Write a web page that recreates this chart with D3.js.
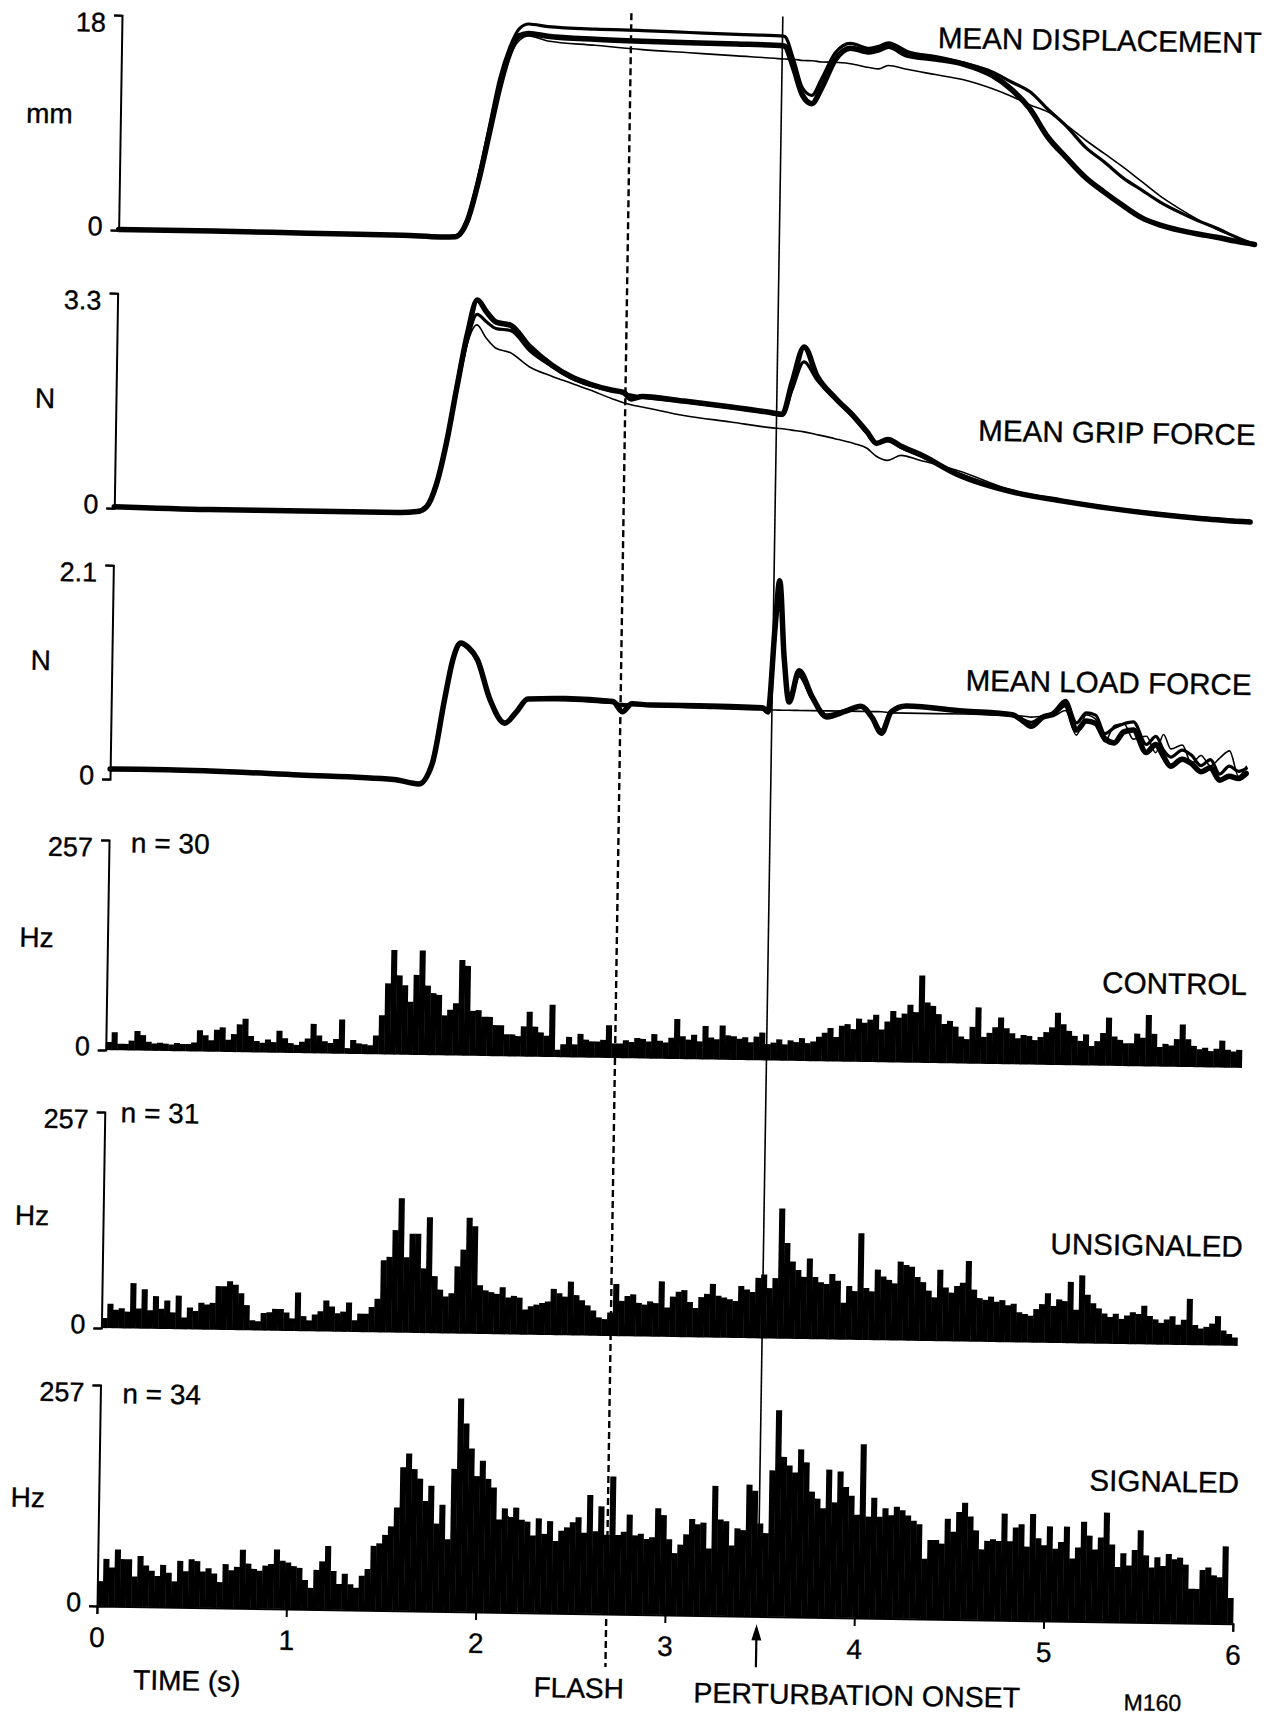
<!DOCTYPE html>
<html><head><meta charset="utf-8">
<script src="https://cdn.jsdelivr.net/npm/d3@7"></script>
<style>
body{margin:0;background:#fff}
text{font-family:"Liberation Sans",Arial,Helvetica,sans-serif;fill:#000;stroke:#000;stroke-width:0.35px}
</style></head>
<body><svg id="c" width="1274" height="1716"></svg>
<script>
// ---------- DATA ----------
const panelTitles = ["MEAN DISPLACEMENT","MEAN GRIP FORCE","MEAN LOAD FORCE","CONTROL","UNSIGNALED","SIGNALED"];
const panelUnits  = ["mm","N","N","Hz","Hz","Hz"];
const panelMax    = [18, 3.3, 2.1, 257, 257, 257];
const maxLabels   = ["18","3.3","2.1","257","257","257"];
const trialCounts = ["n = 30","n = 31","n = 34"];
const timeTicks   = [0,1,2,3,4,5,6];
const flashTime = 2.69, perturbTime = 3.49;
const binWidth = 0.03;

// displacement (mm)
const dispTime = [0,0.5,1.0,1.5,1.7,1.78,1.84,1.9,1.95,2.0,2.05,2.1,2.15,2.25,2.5,2.75,3.0,3.25,3.45,3.5,3.55,3.6,3.65,3.7,3.77,3.85,3.95,4.0,4.05,4.15,4.3,4.45,4.6,4.7,4.8,4.9,5.0,5.1,5.2,5.3,5.4,5.5,5.6,5.7,5.8,5.9,6.0];
const dispSignaled   = [0.05,0.05,0.0,-0.05,-0.15,-0.1,1.2,4.8,8.6,12.4,15.3,16.8,17.0,16.8,16.6,16.5,16.45,16.4,16.35,16.3,14.5,12.2,11.5,12.8,15.2,16.2,15.9,16.1,16.4,15.7,15.4,15.0,14.1,13.0,11.4,9.0,7.3,5.7,4.5,3.4,2.4,1.8,1.4,1.1,0.85,0.55,0.3];
const dispUnsignaled = [0.05,0.05,0.0,-0.05,-0.15,-0.05,1.4,5.2,9.2,13.2,15.8,17.4,17.8,17.6,17.45,17.4,17.3,17.2,17.15,17.1,15.2,12.8,12.2,13.6,15.8,16.6,16.2,16.4,16.7,16.0,15.6,15.1,14.4,13.6,12.8,11.3,9.9,8.2,7.0,5.7,4.7,3.7,2.9,2.2,1.6,0.9,0.3];
const dispControl    = [0.05,0.05,0.0,-0.05,-0.15,-0.1,1.2,4.8,8.6,12.3,15.0,16.4,16.8,16.4,16.1,15.8,15.6,15.4,15.25,15.2,15.2,15.1,15.1,15.0,15.0,14.9,14.6,14.5,14.8,14.5,14.1,13.7,13.0,12.4,11.7,11.1,10.0,8.8,7.7,6.6,5.4,4.2,3.2,2.3,1.5,0.9,0.3];

// grip force (N)
const gripTime = [0,0.5,1.0,1.5,1.6,1.65,1.7,1.75,1.8,1.85,1.9,1.95,2.0,2.08,2.18,2.3,2.4,2.5,2.62,2.68,2.72,2.78,3.0,3.25,3.47,3.52,3.57,3.63,3.7,3.8,3.9,3.97,4.02,4.08,4.15,4.25,4.45,4.75,5.0,5.25,5.5,5.75,6.0];
const gripSignaled   = [0.02,0.0,0.0,0.0,0.02,0.1,0.45,1.1,1.95,2.75,3.28,3.1,2.95,2.9,2.58,2.3,2.13,2.02,1.93,1.9,1.8,1.84,1.78,1.7,1.62,1.6,2.1,2.64,2.2,1.86,1.58,1.35,1.18,1.24,1.14,1.02,0.72,0.46,0.34,0.24,0.16,0.1,0.06];
const gripUnsignaled = [0.02,0.0,0.0,0.0,0.02,0.1,0.45,1.1,1.9,2.65,3.06,2.95,2.85,2.82,2.52,2.28,2.11,2.0,1.92,1.88,1.86,1.83,1.77,1.69,1.61,1.59,1.98,2.41,2.14,1.84,1.56,1.33,1.17,1.22,1.12,1.0,0.74,0.47,0.35,0.25,0.17,0.11,0.07];
const gripControl    = [0.02,0.0,0.0,0.0,0.02,0.1,0.45,1.1,1.85,2.6,2.9,2.7,2.55,2.48,2.27,2.13,2.03,1.93,1.8,1.74,1.71,1.68,1.56,1.47,1.39,1.38,1.36,1.34,1.3,1.24,1.17,1.1,0.98,0.92,1.0,0.93,0.78,0.48,0.35,0.25,0.17,0.11,0.07];

// load force (N)
const loadTime = [0,0.3,1.0,1.5,1.63,1.7,1.76,1.8,1.84,1.88,1.93,2.0,2.08,2.14,2.2,2.4,2.65,2.7,2.75,2.85,3.1,3.44,3.47,3.5,3.52,3.55,3.58,3.63,3.7,3.78,3.88,3.96,4.02,4.07,4.12,4.2,4.5,4.76,4.81,4.86,4.92,4.97,5.04,5.1,5.15,5.2,5.25,5.3,5.35,5.4,5.47,5.52,5.56,5.6,5.66,5.71,5.76,5.81,5.86,5.91,5.96,6.0];
const loadSignaled   = [0.1,0.1,0.07,0.04,0.0,0.2,0.83,1.22,1.39,1.35,1.23,0.84,0.61,0.72,0.85,0.86,0.84,0.74,0.82,0.81,0.81,0.8,0.76,1.6,2.05,1.3,0.86,1.17,0.92,0.72,0.78,0.83,0.72,0.57,0.78,0.84,0.8,0.77,0.72,0.66,0.75,0.78,0.88,0.63,0.72,0.7,0.55,0.51,0.62,0.64,0.42,0.5,0.39,0.29,0.36,0.32,0.24,0.28,0.16,0.2,0.18,0.23];
const loadUnsignaled = [0.1,0.1,0.07,0.04,0.0,0.2,0.83,1.22,1.38,1.34,1.22,0.84,0.62,0.73,0.85,0.86,0.84,0.8,0.82,0.81,0.81,0.8,0.77,1.5,1.98,1.25,0.88,1.12,0.9,0.74,0.79,0.83,0.73,0.6,0.79,0.84,0.8,0.77,0.73,0.7,0.76,0.79,0.92,0.7,0.8,0.78,0.6,0.66,0.7,0.72,0.5,0.58,0.45,0.38,0.45,0.4,0.3,0.36,0.22,0.3,0.25,0.28];
const loadControl    = [0.1,0.1,0.07,0.04,0.0,0.2,0.83,1.22,1.38,1.34,1.22,0.84,0.62,0.73,0.84,0.84,0.82,0.82,0.81,0.8,0.79,0.78,0.78,0.78,0.78,0.78,0.78,0.78,0.78,0.78,0.78,0.78,0.78,0.78,0.77,0.77,0.77,0.76,0.76,0.75,0.76,0.76,0.82,0.58,0.78,0.74,0.52,0.68,0.7,0.55,0.58,0.42,0.6,0.46,0.5,0.32,0.4,0.3,0.38,0.45,0.2,0.3];

// peri-stimulus histograms (Hz), 30 ms bins from 0 s
const histControl = [
10,22,8,8,12,24,19,11,9,10, 9,8,10,9,9,11,26,20,14,27,
30,15,22,34,41,20,14,12,16,13, 27,18,12,10,14,18,36,22,15,13,
18,42,7,17,13,12,11,23,48,87, 128,97,85,65,98,128,85,76,74,49,
56,64,117,110,55,56,48,48,38,38, 27,27,25,37,55,37,30,26,64,9,
16,25,16,29,22,20,20,22,40,18, 18,22,20,25,24,21,30,22,20,26,
49,28,24,30,22,41,27,25,42,30, 29,26,28,22,29,34,20,22,26,20,
25,23,28,22,24,30,35,41,30,44, 46,40,53,48,52,58,40,50,63,55,
60,71,62,107,74,70,60,48,52,45, 33,30,45,69,33,38,45,57,44,38,
32,36,35,30,34,40,46,64,50,42, 36,30,38,24,30,40,59,36,32,28,
28,40,35,63,40,24,28,26,34,52, 34,26,22,24,20,23,33,22,20,22];
const histUnsignaled = [
12,29,22,24,20,54,24,47,22,39, 24,34,20,40,14,26,22,32,30,32,
52,52,58,54,44,30,12,11,21,22, 26,26,22,15,46,18,13,20,24,37,
30,22,24,35,14,22,22,30,40,86, 90,122,160,90,118,118,77,138,68,52,
44,48,80,100,138,128,58,52,50,48, 56,44,46,44,30,34,36,38,40,55,
50,46,64,48,42,36,30,22,20,28, 62,42,48,50,40,38,42,40,66,35,
48,54,56,42,35,48,52,64,50,48, 46,44,62,58,55,72,76,60,72,155,
114,92,82,74,96,74,68,66,78,70, 44,64,58,127,62,58,84,76,72,68,
94,90,88,76,70,60,52,85,64,58, 66,70,96,62,52,50,54,48,50,44,
46,36,34,32,40,46,59,44,52,50, 73,40,81,58,48,42,36,32,36,30,
34,38,36,46,34,30,26,30,34,24, 30,55,24,20,22,26,35,18,14,10];
const histSignaled = [
29,55,45,66,55,55,35,59,48,42, 36,49,40,30,54,42,56,54,42,46,
40,30,51,44,48,68,52,46,44,50, 52,69,56,54,50,48,34,25,46,56,
74,45,30,42,30,26,40,48,75,78, 88,98,120,167,183,165,154,128,146,102,
124,84,166,248,219,190,158,176,155,145, 108,121,112,122,108,106,90,110,92,107,
84,96,100,106,112,94,138,96,125,92, 160,92,96,116,92,94,88,90,124,116,
88,72,82,94,112,106,108,78,151,112, 110,82,102,100,153,146,108,97,170,240,
186,176,168,195,180,146,138,127,172,134, 170,152,142,120,202,118,140,118,128,120,
130,126,120,114,110,70,92,92,88,117, 102,125,136,120,104,82,92,94,92,124,
92,108,112,86,124,96,88,110,84,92, 110,73,86,116,100,84,98,127,90,64,
80,66,84,107,78,64,76,66,80,74, 76,68,40,40,62,65,56,54,90,30];

// ---------- LAYOUT ----------
const layout = [
 {top:15,  zero:230,  titleY:35,   unitY:124},
 {top:293, zero:508,  titleY:427,  unitY:409},
 {top:565, zero:779,  titleY:677,  unitY:671},
 {top:840, zero:1050, titleY:977,  unitY:948,  nX:119, nY:852},
 {top:1112,zero:1328, titleY:1239, unitY:1226, nX:113, nY:1122},
 {top:1385,zero:1606, titleY:1475, unitY:1508, nX:119, nY:1403}
];
const traceSets = [
 {t:dispTime, s:[dispControl, dispUnsignaled, dispSignaled]},
 {t:gripTime, s:[gripControl, gripUnsignaled, gripSignaled]},
 {t:loadTime, s:[loadControl, loadUnsignaled, loadSignaled]}
];
const lineWidths = [1.6, 3.2, 5.5];
const hists = [histControl, histUnsignaled, histSignaled];

const svg = d3.select("#c");
const g = svg.append("g").attr("transform","rotate(0.9,97,1607)");
const x = d3.scaleLinear().domain([0,6]).range([97,1233]);
const AX = 97;

layout.forEach((L,p)=>{
  const y = d3.scaleLinear().domain([0,panelMax[p]]).range([L.zero, L.top]);
  const pg = g.append("g");
  if (p < 3) {
    const set = traceSets[p];
    set.s.forEach((vals,k)=>{
      const pts = set.t.map((t,i)=>[t, vals[i]]);
      const line = d3.line().x(d=>x(d[0])).y(d=>y(d[1])).curve(d3.curveMonotoneX);
      pg.append("path").attr("d", line(pts)).attr("fill","none")
        .attr("stroke","#000").attr("stroke-width", lineWidths[k])
        .attr("stroke-linejoin","round").attr("stroke-linecap","round");
    });
  } else {
    const h = hists[p-3];
    pg.selectAll("rect").data(h).join("rect")
      .attr("x",(d,i)=>x(i*binWidth))
      .attr("width",(d,i)=>x((i+1)*binWidth)-x(i*binWidth)+0.4)
      .attr("y",d=>y(d)).attr("height",d=>L.zero-y(d)).attr("fill","#000");
    pg.append("text").attr("x",L.nX).attr("y",L.nY).attr("font-size",28).text(trialCounts[p-3]);
  }
  // y axis bracket
  const ax = d3.axisLeft(y).tickValues([0,panelMax[p]]).tickSize(8).tickPadding(8)
      .tickFormat((d,i)=> i ? maxLabels[p] : "0");
  const ag = pg.append("g").attr("transform",`translate(${AX},0)`).call(ax);
  ag.attr("font-family",null).attr("font-size",null);
  ag.select(".domain").attr("stroke","#000").attr("stroke-width",2);
  ag.selectAll(".tick line").attr("stroke","#000").attr("stroke-width",2);
  ag.selectAll(".tick text").attr("font-size",27).attr("fill","#000")
     .attr("dy",(d,i)=> i ? "0.6em" : "0.19em");
  // unit and title
  pg.append("text").attr("x",26).attr("y",L.unitY).attr("text-anchor","middle").attr("font-size",28).text(panelUnits[p]);
  pg.append("text").attr("x",1237).attr("y",L.titleY).attr("text-anchor","end").attr("font-size",29.6).text(panelTitles[p]);
});

// bottom time axis
const xa = d3.axisBottom(x).tickValues(timeTicks).tickSize(8).tickPadding(13).tickFormat(d3.format("d"));
const xg = g.append("g").attr("transform",`translate(0,${layout[5].zero})`).call(xa);
xg.attr("font-family",null).attr("font-size",null);
xg.select(".domain").attr("stroke","#000").attr("stroke-width",2);
xg.selectAll(".tick line").attr("stroke","#000").attr("stroke-width",2);
xg.selectAll(".tick text").attr("font-size",28).attr("fill","#000");

// event lines
g.append("line").attr("x1",x(flashTime)).attr("x2",x(flashTime)).attr("y1",5).attr("y2",1659)
 .attr("stroke","#000").attr("stroke-width",2.4).attr("stroke-dasharray","7,4");
g.append("line").attr("x1",x(perturbTime)).attr("x2",x(perturbTime)).attr("y1",6).attr("y2",layout[5].zero)
 .attr("stroke","#000").attr("stroke-width",1.6);
// arrow
const ax0 = x(perturbTime)-1;
g.append("line").attr("x1",ax0).attr("x2",ax0).attr("y1",1657).attr("y2",1624).attr("stroke","#000").attr("stroke-width",2.2);
g.append("path").attr("d",`M${ax0},1614 L${ax0-5},1630 L${ax0+5},1630 Z`).attr("fill","#000");

// bottom labels
g.append("text").attr("x",188).attr("y",1689).attr("text-anchor","middle").attr("font-size",28).text("TIME (s)");
g.append("text").attr("x",580).attr("y",1690).attr("text-anchor","middle").attr("font-size",28).text("FLASH");
g.append("text").attr("x",858).attr("y",1693).attr("text-anchor","middle").attr("font-size",28.5).text("PERTURBATION ONSET");
g.append("text").attr("x",1125).attr("y",1694).attr("font-size",23).text("M160");
</script>
</body></html>
